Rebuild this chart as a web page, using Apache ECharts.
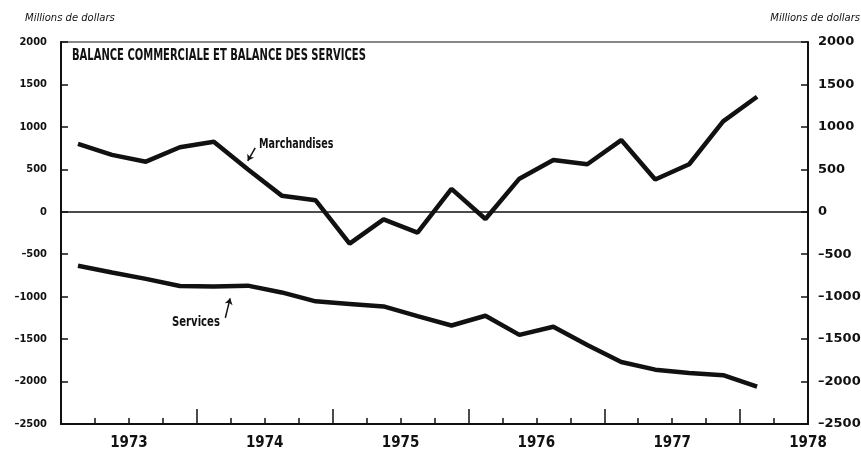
<!DOCTYPE html>
<html>
<head>
<meta charset="utf-8">
<script src="https://cdn.jsdelivr.net/npm/echarts@6/dist/echarts.min.js"></script>
<style>
  html, body { margin: 0; padding: 0; background: #fff; }
  #chart { width: 861px; height: 452px; }
</style>
</head>
<body>
<div id="chart"></div>
<script>
// quarter mid-points, 1972 T3 .. 1977 T3
const quarters = [
  1972.625, 1972.875, 1973.125, 1973.375, 1973.625, 1973.875, 1974.125,
  1974.375, 1974.625, 1974.875, 1975.125, 1975.375, 1975.625, 1975.875,
  1976.125, 1976.375, 1976.625, 1976.875, 1977.125, 1977.375, 1977.625
];
const marchandises = [
  800, 670, 590, 760, 825, 500, 190, 135, -375, -90, -245,
  270, -85, 390, 610, 560, 845, 380, 560, 1065, 1355
];
const services = [
  -635, -715, -790, -875, -880, -870, -950, -1055, -1085, -1115, -1230,
  -1340, -1225, -1450, -1355, -1570, -1770, -1860, -1900, -1925, -2060
];
const yearLabels = [1973, 1974, 1975, 1976, 1977, 1978];
const midYearTicks = [1973.5, 1974.5, 1975.5, 1976.5, 1977.5];
const yTickLabels = {
  2000: "2000", 1500: "1500", 1000: "1000", 500: "500", 0: "0",
  "-500": "–500", "-1000": "–1000", "-1500": "–1500", "-2000": "–2000", "-2500": "–2500"
};

const ink = "#111";
const cond = "'DejaVu Sans Condensed', 'DejaVu Sans', sans-serif";
const chart = echarts.init(document.getElementById("chart"));

const pairs = (ys) => quarters.map((q, i) => [q, ys[i]]);

chart.setOption({
  backgroundColor: "#fff",
  animation: false,
  grid: {
    left: 61, right: 53, top: 42, bottom: 28,
    outerBoundsMode: "none", containLabel: false,
    show: true, borderColor: ink, borderWidth: 1.2, backgroundColor: "transparent"
  },
  xAxis: [
    {
      type: "value", min: 1972.5, max: 1978, interval: 0.25,
      axisLine: { show: true, onZero: false, lineStyle: { color: ink, width: 2 } },
      axisTick: { show: true, inside: true, length: 6, lineStyle: { color: ink, width: 1.5 } },
      splitLine: { show: false },
      axisLabel: {
        margin: 12, color: ink, fontFamily: cond, fontWeight: "bold", fontSize: 15,
        showMinLabel: true, showMaxLabel: true, hideOverlap: false,
        formatter: (v) => (yearLabels.includes(v) ? String(v) : "")
      }
    },
    {
      type: "value", min: 1972.5, max: 1978, position: "bottom",
      axisLine: { show: false, onZero: false },
      axisLabel: { show: false },
      splitLine: { show: false },
      axisTick: {
        show: true, inside: true, length: 15, customValues: midYearTicks,
        lineStyle: { color: ink, width: 1.5 }
      }
    }
  ],
  yAxis: [
    {
      type: "value", min: -2500, max: 2000, interval: 500, position: "left",
      axisLine: { show: true, lineStyle: { color: ink, width: 2 } },
      axisTick: { show: true, inside: true, length: 7, lineStyle: { color: ink, width: 1.5 } },
      splitLine: { show: false },
      axisLabel: {
        margin: 14, color: ink, fontFamily: cond, fontWeight: "bold", fontSize: 11,
        formatter: (v) => yTickLabels[v]
      }
    },
    {
      type: "value", min: -2500, max: 2000, interval: 500, position: "right",
      axisLine: { show: true, lineStyle: { color: ink, width: 2 } },
      axisTick: { show: true, inside: true, length: 7, lineStyle: { color: ink, width: 1.5 } },
      splitLine: { show: false },
      axisLabel: {
        margin: 10, color: ink, fontFamily: "'DejaVu Sans', sans-serif",
        fontWeight: "bold", fontSize: 13,
        formatter: (v) => yTickLabels[v]
      }
    }
  ],
  series: [
    {
      name: "Marchandises", type: "line", data: pairs(marchandises),
      showSymbol: false, lineStyle: { color: ink, width: 4.5 }, z: 3,
      markLine: {
        silent: true, symbol: ["none", "none"], label: { show: false },
        lineStyle: { color: ink, width: 1.5, type: "solid" },
        data: [
          { yAxis: 0 },
          [
            { coord: [1973.93, 754], symbol: "none" },
            { coord: [1973.875, 600], symbol: "arrow", symbolSize: 6 }
          ]
        ]
      }
    },
    {
      name: "Services", type: "line", data: pairs(services),
      showSymbol: false, lineStyle: { color: ink, width: 4.5 }, z: 3,
      markLine: {
        silent: true, symbol: ["none", "none"], label: { show: false },
        lineStyle: { color: ink, width: 1.5, type: "solid" },
        data: [
          [
            { coord: [1973.71, -1250], symbol: "none" },
            { coord: [1973.745, -1020], symbol: "arrow", symbolSize: 6 }
          ]
        ]
      }
    }
  ],
  graphic: [
    {
      type: "text", x: 72, y: 49, scaleX: 0.74,
      style: {
        text: "BALANCE COMMERCIALE ET BALANCE DES SERVICES",
        fill: ink, font: "bold 15px " + cond
      }
    },
    {
      type: "text", x: 259, y: 137, scaleX: 0.76,
      style: { text: "Marchandises", fill: ink, font: "bold 14px " + cond }
    },
    {
      type: "text", x: 172, y: 315, scaleX: 0.8,
      style: { text: "Services", fill: ink, font: "bold 14px " + cond }
    },
    {
      type: "text", left: 25, top: 13,
      style: { text: "Millions de dollars", fill: ink, font: "italic 10px 'DejaVu Sans', sans-serif" }
    },
    {
      type: "text", right: 1, top: 13,
      style: { text: "Millions de dollars", fill: ink, font: "italic 10px 'DejaVu Sans', sans-serif" }
    }
  ]
});
</script>
</body>
</html>
